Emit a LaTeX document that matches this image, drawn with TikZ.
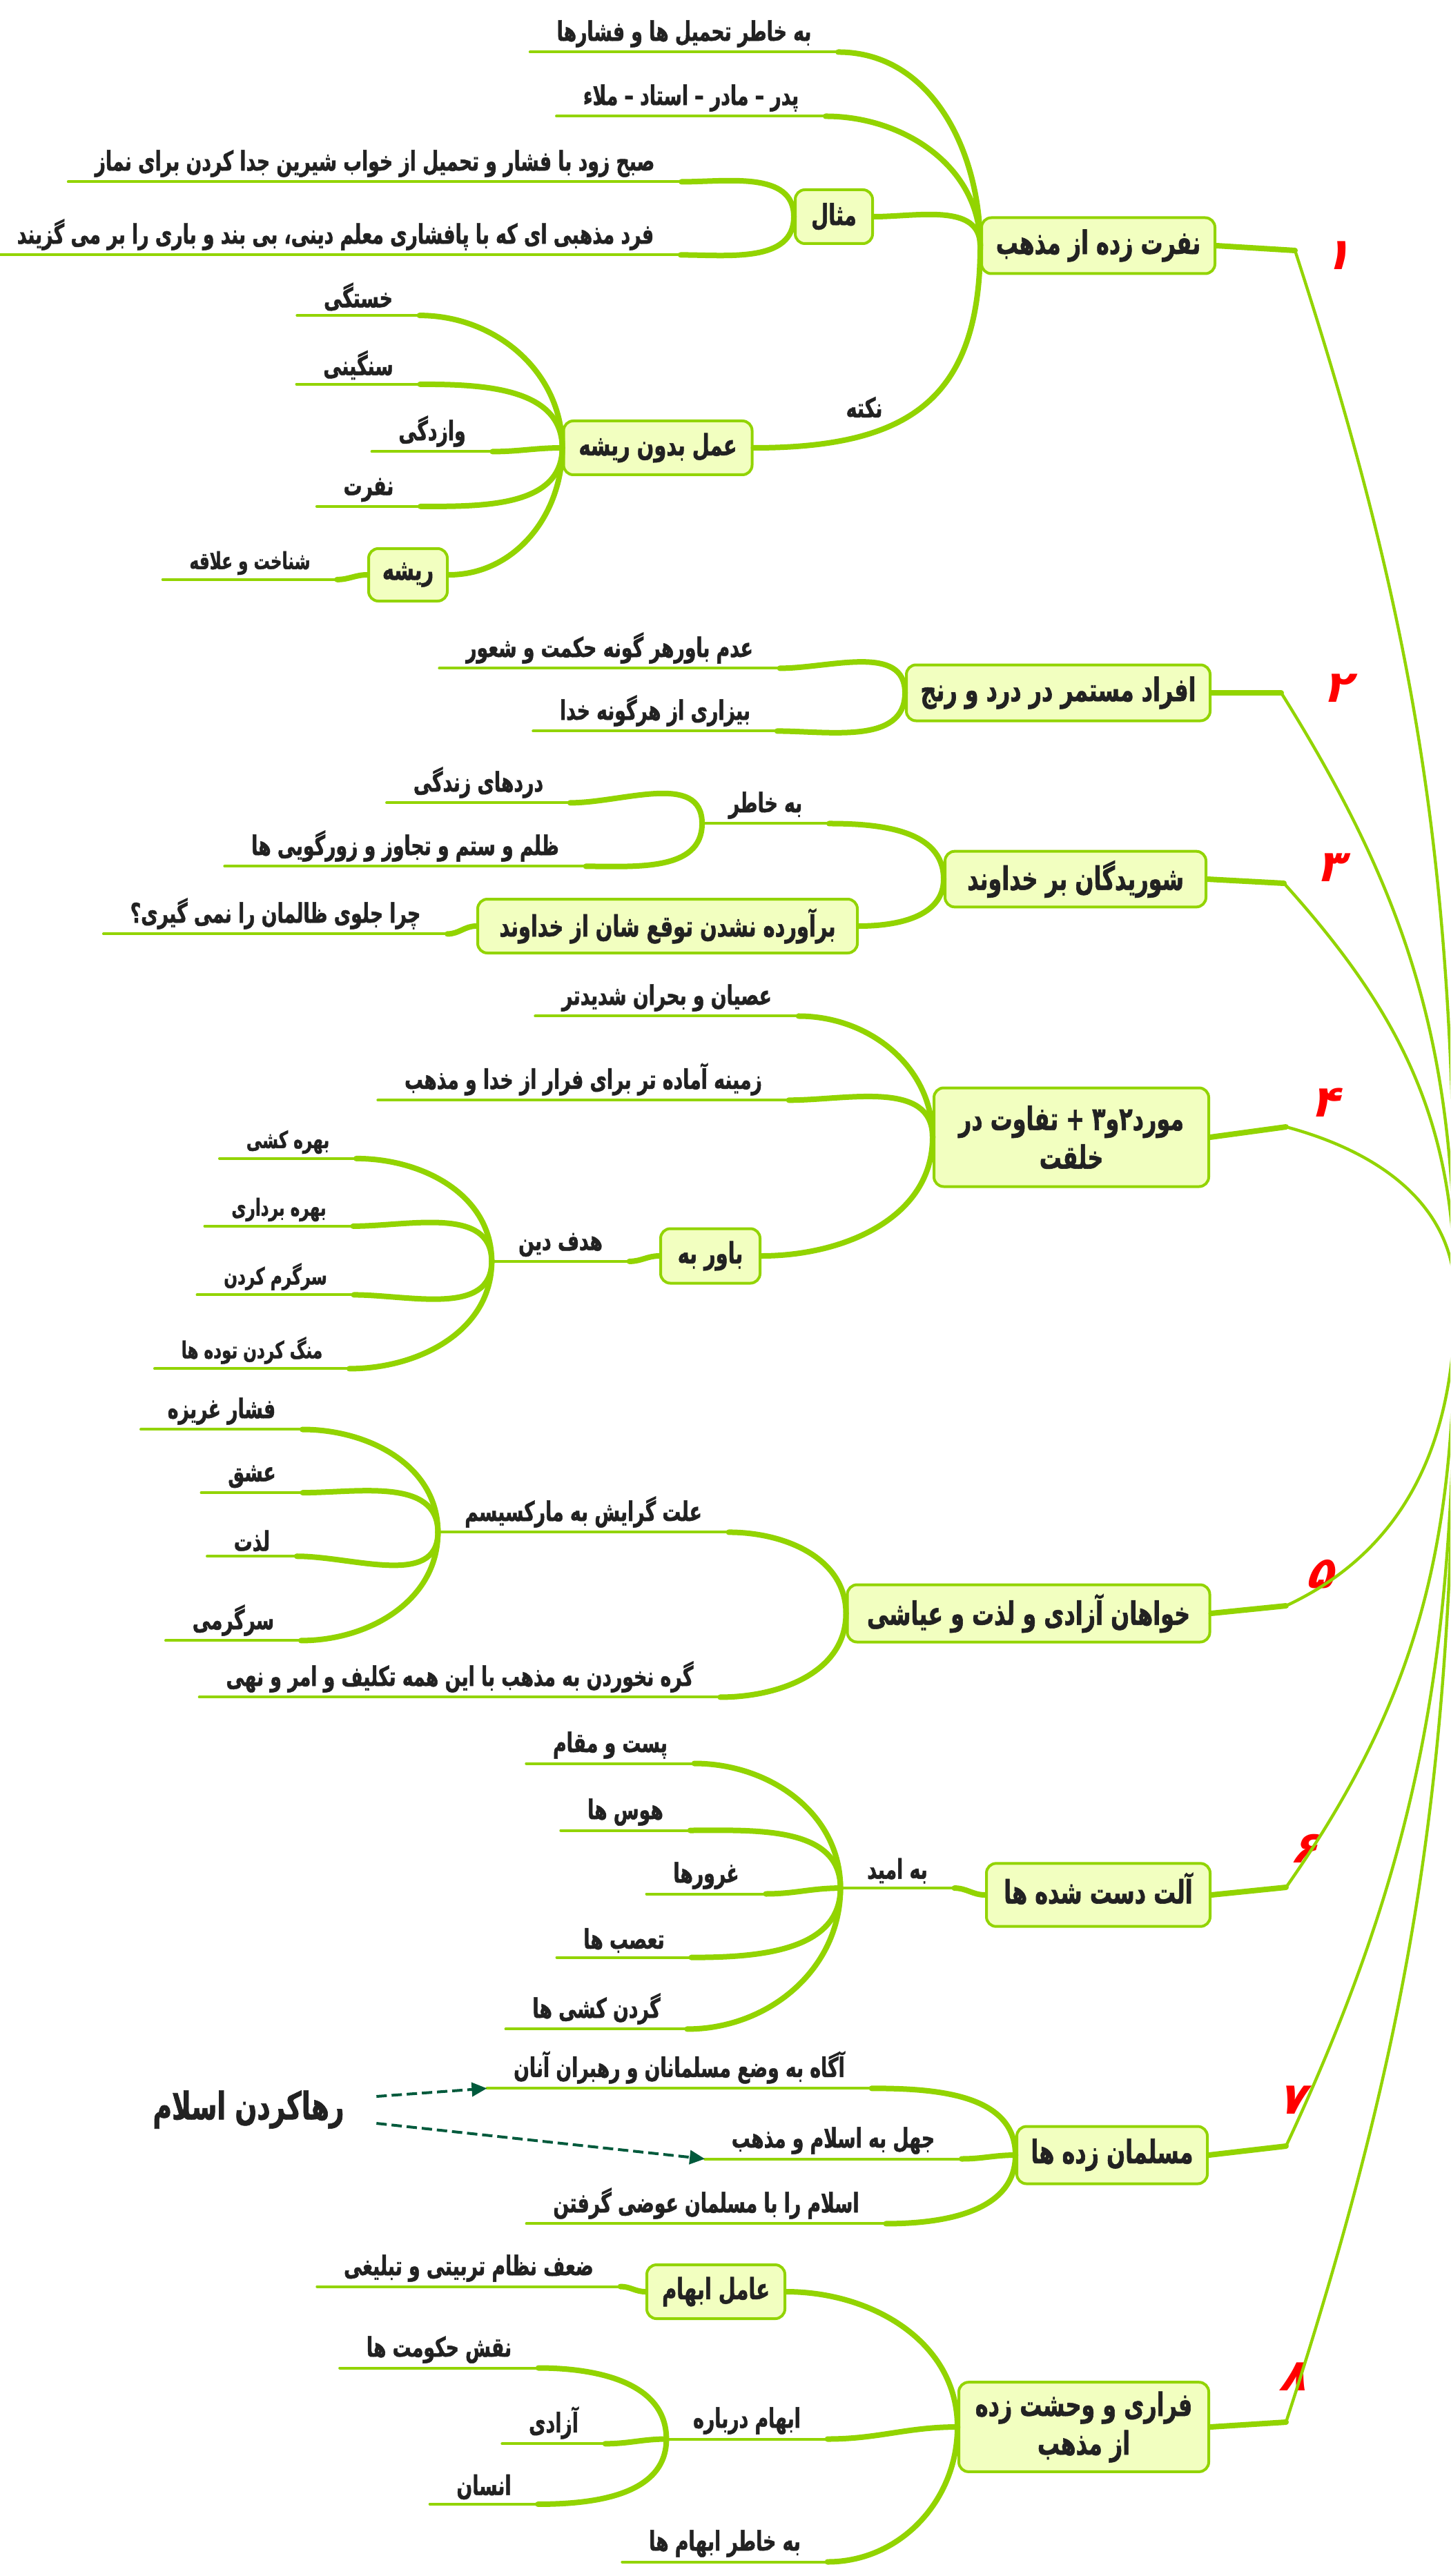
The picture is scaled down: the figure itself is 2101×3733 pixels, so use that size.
\documentclass[tikz,border=0pt]{standalone}
\usepackage{fontspec}
\usetikzlibrary{arrows.meta}
\newfontfamily\fa[Script=Arabic,FakeStretch=0.68,BoldFeatures={FakeBold=1.2}]{DejaVu Sans}
\newfontfamily\fanum[Script=Arabic,FakeSlant=0.3]{DejaVu Sans}
\TeXXeTstate=1
\newcommand{\fatx}[1]{\beginR #1\endR}
\definecolor{mmgreen}{RGB}{146,212,0}
\definecolor{mmfill}{RGB}{242,255,192}
\definecolor{mmtext}{RGB}{34,34,34}
\definecolor{mmdash}{RGB}{0,90,60}
\tikzset{
  topic/.style={draw=mmgreen, line width=1pt, fill=mmfill, rounded corners=3.5pt, align=center, text=mmtext, font=\fa\bfseries\fontsize{11.7}{14}\selectfont},
  subtopic/.style={topic, font=\fa\bfseries\fontsize{10.6}{12}\selectfont},
  leaf/.style={inner xsep=9.5pt, inner ysep=1.5pt, text=mmtext, font=\fa\bfseries\fontsize{9.8}{11}\selectfont},
  smallleaf/.style={leaf, font=\fa\bfseries\fontsize{8.5}{10}\selectfont},
  twig/.style={draw=mmgreen, line width=2pt, line cap=round},
  stem/.style={draw=mmgreen, line width=1pt, line cap=round},
  trunk/.style={draw=mmgreen, line width=1.1pt},
  rednum/.style={text=red, font=\fanum\bfseries\fontsize{16}{16}\selectfont},
  hint/.style={draw=mmdash, line width=1pt, dash pattern=on 3.75pt off 1.75pt, -{Triangle[length=5.5pt,width=5pt]}}
}
\begin{document}
\begin{tikzpicture}[x=0.25pt,y=0.25pt]
  \useasboundingbox (0,0) rectangle (2101,-3733);
  \clip (0,0) rectangle (2101,-3733);
  \fill[white] (0,0) rectangle (2101,-3733);
  \coordinate (root) at (2108,-1880);
  % main topics
  \node[topic, minimum width=84.5pt, minimum height=20.25pt] (n1) at (1591,-356) {\fatx{نفرت زده از مذهب}};
  \node[topic, minimum width=110pt, minimum height=20.25pt] (n2) at (1533,-1004) {\fatx{افراد مستمر در درد و رنج}};
  \node[topic, minimum width=94.5pt, minimum height=20pt] (n3) at (1558,-1274) {\fatx{شوریدگان بر خداوند}};
  \node[topic, minimum width=99.5pt, minimum height=35.75pt] (n4) at (1552,-1648) {\fatx{مورد۲و۳ + تفاوت در}\\\fatx{خلقت}};
  \node[topic, minimum width=131.25pt, minimum height=20.75pt] (n5) at (1490,-2338) {\fatx{خواهان آزادی و لذت و عیاشی}};
  \node[topic, minimum width=81pt, minimum height=20.75pt, text depth=5pt] (n6) at (1591,-2746) {\fatx{آلت دست شده ها}};
  \node[topic, minimum width=69pt, minimum height=20.75pt, text depth=3pt] (n7) at (1611,-3123) {\fatx{مسلمان زده ها}};
  \node[topic, minimum width=90.5pt, minimum height=31.5pt] (n8) at (1570,-3517) {\fatx{فراری و وحشت زده}\\\fatx{از مذهب}};
  % red numbers
  \node[rednum] (r1) at (1936,-370) {۱};
  \node[rednum] (r2) at (1936,-997) {۲};
  \node[rednum] (r3) at (1926,-1257) {۳};
  \node[rednum] (r4) at (1918,-1598) {۴};
  \node[rednum] (r5) at (1911,-2281) {۵};
  \node[rednum] (r6) at (1888,-2679) {۶};
  \node[rednum] (r7) at (1870,-3043) {۷};
  \node[rednum] (r8) at (1872,-3444) {۸};
  % trunk
  \coordinate (k1) at (1876,-363);
  \coordinate (k2) at (1856,-1004);
  \coordinate (k3) at (1860,-1280);
  \coordinate (k4) at (1863,-1633);
  \coordinate (k5) at (1863,-2327);
  \coordinate (k6) at (1863,-2735);
  \coordinate (k7) at (1863,-3110);
  \coordinate (k8) at (1863,-3510);
  \draw[twig] (n1.east) -- (k1) edge[trunk,out=-72,in=90] (root);
  \draw[twig] (n2.east) -- (k2) edge[trunk,out=-58,in=90] (root);
  \draw[twig] (n3.east) -- (k3) edge[trunk,out=-48,in=90] (root);
  \draw[twig] (n4.east) -- (k4) edge[trunk,out=-15,in=90] (root);
  \draw[twig] (n5.east) -- (k5) edge[trunk,out=25,in=-90] (root);
  \draw[twig] (n6.east) -- (k6) edge[trunk,out=55,in=-90] (root);
  \draw[twig] (n7.east) -- (k7) edge[trunk,out=65,in=-90] (root);
  \draw[twig] (n8.east) -- (k8) edge[trunk,out=72,in=-90] (root);

  % branch 1
  \node[leaf] (l1a) at (991,-49) {\fatx{به خاطر تحمیل ها و فشارها}};
  \node[leaf] (l1b) at (1001,-142) {\fatx{پدر – مادر – استاد – ملاء}};
  \node[subtopic, minimum width=28pt, minimum height=19.5pt] (mesal) at (1208,-314) {\fatx{مثال}};
  \node[leaf] (l1c) at (543,-237) {\fatx{صبح زود با فشار و تحمیل از خواب شیرین جدا کردن برای نماز}};
  \node[leaf] (l1d) at (486,-340) {\fatx{فرد مذهبی ای که با پافشاری معلم دینی، بی بند و باری را بر می گزیند}};
  \node[subtopic, minimum width=68.25pt, minimum height=19.5pt] (amal) at (953,-649) {\fatx{عمل بدون ریشه}};
  \node[leaf, inner sep=0pt] (nokte) at (1252,-590) {\fatx{نکته}};
  \node[leaf] (l1e) at (519,-430) {\fatx{خستگی}};
  \node[leaf] (l1f) at (519,-529) {\fatx{سنگینی}};
  \node[leaf] (l1g) at (626,-625) {\fatx{وازدگی}};
  \node[leaf] (l1h) at (534,-710) {\fatx{نفرت}};
  \node[subtopic, minimum width=28.5pt, minimum height=19pt] (risheh) at (591,-833) {\fatx{ریشه}};
  \node[smallleaf] (l1i) at (362,-816) {\fatx{شناخت و علاقه}};
  \draw[stem] (l1a.south west) -- (l1a.south east) edge[twig,out=0,in=90] (n1.west);
  \draw[stem] (l1b.south west) -- (l1b.south east) edge[twig,out=0,in=90] (n1.west);
  \draw[twig] (mesal.east) to[out=0,in=90] (n1.west);
  \draw[stem] (l1c.south west) -- (l1c.south east) edge[twig,out=0,in=90] (mesal.west);
  \draw[stem] (l1d.south west) -- (l1d.south east) edge[twig,out=0,in=-90] (mesal.west);
  \draw[twig] (amal.east) to[out=0,in=-90,looseness=1.3] (n1.west);
  \draw[stem] (l1e.south west) -- (l1e.south east) edge[twig,out=0,in=90] (amal.west);
  \draw[stem] (l1f.south west) -- (l1f.south east) edge[twig,out=0,in=90] (amal.west);
  \draw[stem] (l1g.south west) -- (l1g.south east) edge[twig,out=0,in=180] (amal.west);
  \draw[stem] (l1h.south west) -- (l1h.south east) edge[twig,out=0,in=-90] (amal.west);
  \draw[twig] (risheh.east) to[out=0,in=-90] (amal.west);
  \draw[stem] (l1i.south west) -- (l1i.south east) edge[twig,out=0,in=180] (risheh.west);

  % branch 2
  \node[leaf] (l2a) at (883,-939) {\fatx{عدم باورهر گونه حکمت و شعور}};
  \node[leaf] (l2b) at (949,-1030) {\fatx{بیزاری از هرگونه خدا}};
  \draw[stem] (l2a.south west) -- (l2a.south east) edge[twig,out=0,in=90] (n2.west);
  \draw[stem] (l2b.south west) -- (l2b.south east) edge[twig,out=0,in=-90] (n2.west);

  % branch 3
  \node[leaf] (bekhater) at (1109,-1167) {\fatx{به خاطر}};
  \node[leaf] (l3a) at (693,-1134) {\fatx{دردهای زندگی}};
  \node[leaf] (l3b) at (587,-1226) {\fatx{ظلم و ستم و تجاوز و زورگویی ها}};
  \node[subtopic, minimum width=137.5pt, minimum height=19.5pt] (barv) at (967,-1342) {\fatx{برآورده نشدن توقع شان از خداوند}};
  \node[leaf] (l3c) at (399,-1324) {\fatx{چرا جلوی ظالمان را نمی گیری؟}};
  \draw[stem] (bekhater.south west) -- (bekhater.south east) edge[twig,out=0,in=90] (n3.west);
  \draw[stem] (l3a.south west) -- (l3a.south east) edge[twig,out=0,in=90] (bekhater.south west);
  \draw[stem] (l3b.south west) -- (l3b.south east) edge[twig,out=0,in=-90] (bekhater.south west);
  \draw[twig] (barv.east) to[out=0,in=-90] (n3.west);
  \draw[stem] (l3c.south west) -- (l3c.south east) edge[twig,out=0,in=180] (barv.west);

  % branch 4
  \node[leaf] (l4a) at (966,-1446) {\fatx{عصیان و بحران شدیدتر}};
  \node[leaf] (l4b) at (845,-1564) {\fatx{زمینه آماده تر برای فرار از خدا و مذهب}};
  \node[subtopic, minimum width=36pt, minimum height=19.75pt] (bavar) at (1029,-1820) {\fatx{باور به}};
  \node[leaf] (hadaf) at (812,-1804) {\fatx{هدف دین}};
  \node[smallleaf] (l4c) at (417,-1655) {\fatx{بهره کشی}};
  \node[smallleaf] (l4d) at (404,-1753) {\fatx{بهره برداری}};
  \node[smallleaf] (l4e) at (399,-1850) {\fatx{سرگرم کردن}};
  \node[smallleaf] (l4f) at (365,-1957) {\fatx{منگ کردن توده ها}};
  \draw[stem] (l4a.south west) -- (l4a.south east) edge[twig,out=0,in=90] (n4.west);
  \draw[stem] (l4b.south west) -- (l4b.south east) edge[twig,out=0,in=90] (n4.west);
  \draw[twig] (bavar.east) to[out=0,in=-90] (n4.west);
  \draw[stem] (hadaf.south west) -- (hadaf.south east) edge[twig,out=0,in=180] (bavar.west);
  \draw[stem] (l4c.south west) -- (l4c.south east) edge[twig,out=0,in=90] (hadaf.south west);
  \draw[stem] (l4d.south west) -- (l4d.south east) edge[twig,out=0,in=90] (hadaf.south west);
  \draw[stem] (l4e.south west) -- (l4e.south east) edge[twig,out=0,in=-90] (hadaf.south west);
  \draw[stem] (l4f.south west) -- (l4f.south east) edge[twig,out=0,in=-90] (hadaf.south west);

  % branch 5
  \node[leaf] (elat) at (845,-2191) {\fatx{علت گرایش به مارکسیسم}};
  \node[leaf] (l5a) at (321,-2045) {\fatx{فشار غریزه}};
  \node[leaf] (l5b) at (365,-2140) {\fatx{عشق}};
  \node[leaf] (l5c) at (365,-2233) {\fatx{لذت}};
  \node[leaf] (l5d) at (338,-2348) {\fatx{سرگرمی}};
  \node[leaf] (l5e) at (666,-2430) {\fatx{گره نخوردن به مذهب با این همه تکلیف و امر و نهی}};
  \draw[stem] (elat.south west) -- (elat.south east) edge[twig,out=0,in=90] (n5.west);
  \draw[stem] (l5a.south west) -- (l5a.south east) edge[twig,out=0,in=90] (elat.south west);
  \draw[stem] (l5b.south west) -- (l5b.south east) edge[twig,out=0,in=90] (elat.south west);
  \draw[stem] (l5c.south west) -- (l5c.south east) edge[twig,out=0,in=-90] (elat.south west);
  \draw[stem] (l5d.south west) -- (l5d.south east) edge[twig,out=0,in=-90] (elat.south west);
  \draw[stem] (l5e.south west) -- (l5e.south east) edge[twig,out=0,in=-90] (n5.west);

  % branch 6
  \node[leaf] (omid) at (1300,-2711) {\fatx{به امید}};
  \node[leaf] (l6a) at (884,-2529) {\fatx{پست و مقام}};
  \node[leaf] (l6b) at (906,-2626) {\fatx{هوس ها}};
  \node[leaf] (l6c) at (1023,-2718) {\fatx{غرورها}};
  \node[leaf] (l6d) at (904,-2812) {\fatx{تعصب ها}};
  \node[leaf] (l6e) at (864,-2911) {\fatx{گردن کشی ها}};
  \draw[stem] (omid.south west) -- (omid.south east) edge[twig,out=0,in=180] (n6.west);
  \draw[stem] (l6a.south west) -- (l6a.south east) edge[twig,out=0,in=90] (omid.south west);
  \draw[stem] (l6b.south west) -- (l6b.south east) edge[twig,out=0,in=90] (omid.south west);
  \draw[stem] (l6c.south west) -- (l6c.south east) edge[twig,out=0,in=180] (omid.south west);
  \draw[stem] (l6d.south west) -- (l6d.south east) edge[twig,out=0,in=-90] (omid.south west);
  \draw[stem] (l6e.south west) -- (l6e.south east) edge[twig,out=0,in=-90] (omid.south west);

  % branch 7
  \node[leaf, inner sep=0pt, font=\fa\bfseries\fontsize{13.8}{15}\selectfont] (raha) at (360,-3057) {\fatx{رهاکردن اسلام}};
  \node[leaf] (l7a) at (984,-2996) {\fatx{آگاه به وضع مسلمانان و رهبران آنان}};
  \node[leaf] (l7b) at (1207,-3102) {\fatx{جهل به اسلام و مذهب}};
  \node[leaf] (l7c) at (1023,-3193) {\fatx{اسلام را با مسلمان عوضی گرفتن}};
  \draw[stem] (l7a.south west) -- (l7a.south east) edge[twig,out=0,in=90] (n7.west);
  \draw[stem] (l7b.south west) -- (l7b.south east) edge[twig,out=0,in=180] (n7.west);
  \draw[stem] (l7c.south west) -- (l7c.south east) edge[twig,out=0,in=-90] (n7.west);
  \draw[hint] ([xshift=11.5pt,yshift=4.75pt]raha.east) -- (l7a.south west);
  \draw[hint] ([xshift=11.5pt,yshift=-5pt]raha.east) -- (l7b.south west);

  % branch 8
  \node[subtopic, minimum width=50pt, minimum height=19.5pt] (amel) at (1037,-3321) {\fatx{عامل ابهام}};
  \node[leaf] (l8a) at (679,-3287) {\fatx{ضعف نظام تربیتی و تبلیغی}};
  \node[leaf] (ebham) at (1082,-3508) {\fatx{ابهام درباره}};
  \node[leaf] (l8b) at (636,-3405) {\fatx{نقش حکومت ها}};
  \node[leaf] (l8c) at (802,-3511) {\fatx{آزادی}};
  \node[leaf] (l8d) at (701,-3604) {\fatx{انسان}};
  \node[leaf] (l8e) at (1050,-3686) {\fatx{به خاطر ابهام ها}};
  \draw[twig] (amel.east) to[out=0,in=90] (n8.west);
  \draw[stem] (l8a.south west) -- (l8a.south east) edge[twig,out=0,in=180] (amel.west);
  \draw[stem] (ebham.south west) -- (ebham.south east) edge[twig,out=0,in=180] (n8.west);
  \draw[stem] (l8b.south west) -- (l8b.south east) edge[twig,out=0,in=90] (ebham.south west);
  \draw[stem] (l8c.south west) -- (l8c.south east) edge[twig,out=0,in=180] (ebham.south west);
  \draw[stem] (l8d.south west) -- (l8d.south east) edge[twig,out=0,in=-90] (ebham.south west);
  \draw[stem] (l8e.south west) -- (l8e.south east) edge[twig,out=0,in=-90] (n8.west);
\end{tikzpicture}
\end{document}
